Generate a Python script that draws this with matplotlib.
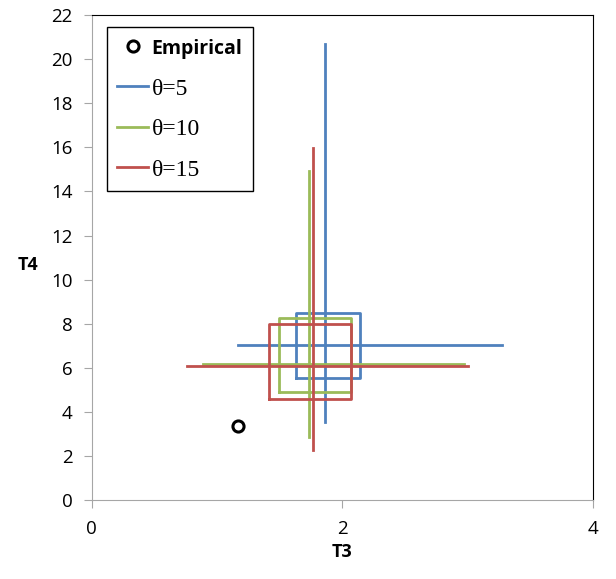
import matplotlib
matplotlib.use("Agg")
import matplotlib.pyplot as plt

labels = ["θ=5", "θ=10", "θ=15"]
colors = ["#4F81BD", "#9BBB59", "#C0504D"]

# vertical segment: x, y bottom, y top
vert_x = [1.86, 1.73, 1.765]
vert_y0 = [3.55, 2.87, 2.3]
vert_y1 = [20.7, 14.95, 15.95]
# horizontal segment: y, x left, x right
hor_y = [7.03, 6.2, 6.07]
hor_x0 = [1.17, 0.89, 0.76]
hor_x1 = [3.27, 2.97, 3.0]
# box: x left, x right, y bottom, y top
box_x0 = [1.63, 1.49, 1.415]
box_x1 = [2.14, 2.065, 2.065]
box_y0 = [5.55, 4.93, 4.57]
box_y1 = [8.5, 8.27, 8.0]

emp_x = [1.165]
emp_y = [3.36]

fig = plt.figure(figsize=(6.16, 5.79), dpi=100)
ax = fig.add_axes([0.149, 0.136, 0.814, 0.838])

lw = 2.0
for i in range(3):
    c = colors[i]
    ax.plot([box_x0[i], box_x1[i], box_x1[i], box_x0[i], box_x0[i]],
            [box_y0[i], box_y0[i], box_y1[i], box_y1[i], box_y0[i]],
            color=c, lw=lw, solid_joinstyle="round")
    ax.plot([hor_x0[i], hor_x1[i]], [hor_y[i], hor_y[i]], color=c, lw=lw)
    ax.plot([vert_x[i], vert_x[i]], [vert_y0[i], vert_y1[i]], color=c, lw=lw,
            label=labels[i])

ax.plot(emp_x, emp_y, "o", mfc="white", mec="black", mew=2.2, ms=8,
        label="Empirical", zorder=5)

ax.set_xlim(0, 4)
ax.set_ylim(0, 22)
ax.set_xticks([0, 2, 4])
ax.set_yticks(range(0, 23, 2))

for s in ["left", "bottom"]:
    ax.spines[s].set_color("#A6A6A6")
for s in ["top", "right"]:
    ax.spines[s].set_color("black")
ax.tick_params(axis="both", colors="#A6A6A6", labelcolor="black", length=6,
               labelsize=13.5, pad=8)
for t in ax.get_xticklabels() + ax.get_yticklabels():
    t.set_fontfamily("Open Sans")

ax.set_xlabel("T3", fontsize=13, fontweight="bold", fontfamily="Open Sans", labelpad=4)
ax.set_ylabel("T4", fontsize=13, fontweight="bold", fontfamily="Open Sans",
              rotation=0, va="center", ha="center")
ax.yaxis.set_label_coords(-0.128, 0.485)

h, l = ax.get_legend_handles_labels()
order = [3, 0, 1, 2]
leg = ax.legend([h[i] for i in order], [l[i] for i in order],
                loc="upper left", bbox_to_anchor=(0.03, 0.975), borderaxespad=0,
                fancybox=False, edgecolor="black", framealpha=1,
                handlelength=1.3, handletextpad=0.15, labelspacing=0.8,
                borderpad=0.45, fontsize=17)
leg.get_frame().set_linewidth(1.0)
txts = leg.get_texts()
txts[0].set_fontfamily("Open Sans")
txts[0].set_fontweight("bold")
txts[0].set_fontsize(14)
for t in txts[1:]:
    t.set_fontfamily("Liberation Serif")

fig.savefig("out.png", dpi=100)
